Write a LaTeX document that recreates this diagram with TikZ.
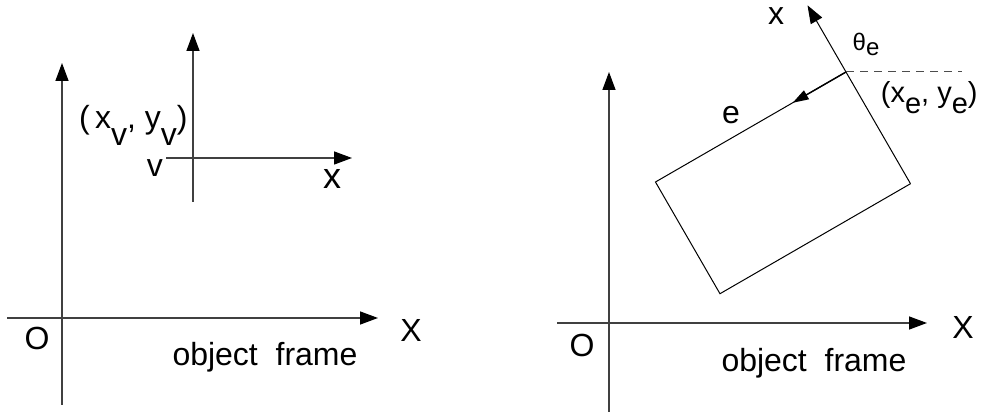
\documentclass[tikz,border=0pt]{standalone}
\usepackage{fontspec}
\setmainfont{Liberation Sans}
\usepackage{tikz}
\usetikzlibrary{arrows.meta,positioning,calc}

\newcommand{\lowsub}[2][-1ex]{\raisebox{#1}{#2}}

\begin{document}
\begin{tikzpicture}[x=0.5pt, y=0.5pt,
  axis/.style={draw=black!75, line width=0.7pt},
  edge/.style={draw=black, line width=0.5pt},
  tip/.style={-{Triangle[length=9pt,width=6.5pt,color=black]}},
  etip/.style={-{Triangle[length=8pt,width=5pt]}, line width=0.7pt},
  lbl/.style={font=\fontsize{16}{19}\selectfont, inner sep=0pt},
  small/.style={font=\fontsize{12}{14}\selectfont, inner sep=0pt}
]
  \useasboundingbox (0,0) rectangle (982,417);

  \coordinate (O1) at (62,99);
  \draw[axis, tip] ($(O1)+(0,-87)$) -- ($(O1)+(0,255)$);
  \draw[axis, tip] ($(O1)+(-55,0)$) -- ($(O1)+(316,0)$);
  \node[lbl] (olbl1) at (37,79) {O};
  \node[lbl] (xbig1) at (411,87) {X};
  \node[lbl, anchor=base] (frame1) at (265,51) {object\ \ frame};

  \coordinate (V) at (193,259);
  \draw[axis, tip] ($(V)+(0,-44)$) -- ($(V)+(0,125)$);
  \draw[axis, tip] ($(V)+(-27,0)$) -- ($(V)+(159,0)$);
  \node[lbl] (vlbl) at (155,249) {v};
  \node[lbl] (xv) at (332,238) {\fontsize{18}{20}\selectfont x};
  \node[lbl, anchor=east] (vpos) at (188,292) {(\,x\lowsub{v}, y\lowsub{v})};

  \coordinate (O2) at (609,94);
  \draw[axis, tip] ($(O2)+(0,-89)$) -- ($(O2)+(0,251)$);
  \draw[axis, tip] ($(O2)+(-52,0)$) -- ($(O2)+(318,0)$);
  \node[lbl] (olbl2) at (582,72) {O};
  \node[lbl] (xbig2) at (963,90) {X};
  \node[lbl, anchor=base] (frame2) at (814,45) {object\ \ frame};

  \coordinate (T) at (846,345);
  \coordinate (L) at ($(T)+(210:220)$);
  \coordinate (R) at ($(T)+(-60:129)$);
  \coordinate (B) at ($(L)+(-60:129)$);
  \draw[edge] (T) -- (L) -- (B) -- (R);
  \draw[edge, tip] (R) -- ($(T)+(120:77)$);
  \draw[edge, black!70, dash pattern=on 4pt off 3pt] (T) -- ($(T)+(116,0)$);
  \draw[etip] (T) -- ($(T)!0.28!(L)$);
  \node[lbl] (xe) at (776,401) {x};
  \node[small] (theta) at (866,373) {θ\lowsub[-0.4ex]{e}};
  \node[lbl, font=\fontsize{14.5}{17}\selectfont, anchor=east] (epos) at (978,319)
    {(x\lowsub[-0.7ex]{e}, y\lowsub[-0.7ex]{e})};
  \node[lbl] (elbl) at (731,302) {e};
\end{tikzpicture}
\end{document}
